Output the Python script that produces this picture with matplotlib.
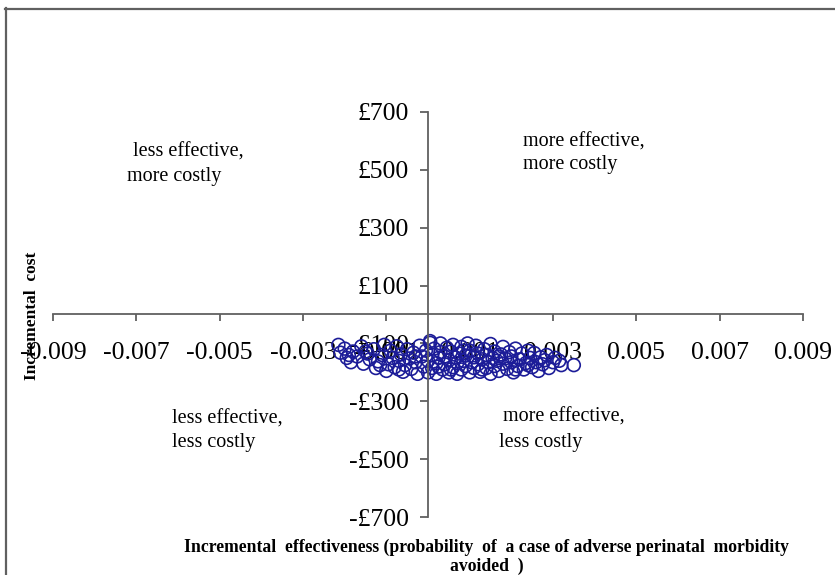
import matplotlib

matplotlib.use("Agg")
import matplotlib.pyplot as plt
from matplotlib.lines import Line2D
from matplotlib.ticker import FixedLocator, FuncFormatter

# Simulated incremental effectiveness / cost pairs (read off the plane)
effect = [
    -0.00215, -0.0021, -0.0020, -0.00195, -0.0019, -0.00185, -0.0018, -0.0017,
    -0.0016, -0.00155, -0.0015, -0.00145, -0.0014, -0.0013, -0.00125, -0.0012,
    -0.00115, -0.0011, -0.00105, -0.0010, -0.00095, -0.0009, -0.00085, -0.0008,
    -0.00075, -0.0007, -0.0007, -0.00065, -0.0006, -0.00055, -0.0005, -0.00045,
    -0.0004, -0.00035, -0.0003, -0.0003, -0.00025, -0.0002, -0.00015, -0.0001,
    -0.00005, 0.0, 0.0, 0.00005, 0.00005, 0.0001, 0.0001, 0.00015, 0.0002,
    0.0002, 0.00025, 0.00025, 0.0003, 0.0003, 0.00035, 0.0004, 0.0004, 0.00045,
    0.0005, 0.0005, 0.00055, 0.00055, 0.0006, 0.0006, 0.00065, 0.0007, 0.0007,
    0.00075, 0.0008, 0.0008, 0.00085, 0.00085, 0.0009, 0.0009, 0.00095, 0.0010,
    0.0010, 0.00105, 0.0011, 0.0011, 0.00115, 0.0012, 0.0012, 0.00125, 0.0013,
    0.0013, 0.00135, 0.0014, 0.0014, 0.00145, 0.0015, 0.0015, 0.00155, 0.0016,
    0.0016, 0.00165, 0.0017, 0.0017, 0.00175, 0.0018, 0.0018, 0.00185, 0.0019,
    0.00195, 0.0020, 0.0020, 0.00205, 0.0021, 0.0021, 0.00215, 0.0022, 0.00225,
    0.0023, 0.00235, 0.0024, 0.0024, 0.00245, 0.0025, 0.00255, 0.0026, 0.00265,
    0.0027, 0.00275, 0.0028, 0.00285, 0.0029, 0.0030, 0.00305, 0.00315, 0.0032,
    0.0035,
]
cost = [
    -105, -132, -118, -150, -140, -165, -128, -145,
    -110, -170, -128, -135, -155, -120, -185, -162,
    -175, -140, -105, -195, -172, -125, -150, -182,
    -110, -160, -190, -138, -198, -175, -120, -152,
    -188, -132, -165, -145, -205, -108, -145, -180,
    -125, -160, -200, -98, -92, -140, -185, -118, -168,
    -205, -150, -180, -100, -130, -190, -172, -145, -115,
    -200, -158, -128, -190, -182, -105, -148, -168, -205,
    -135, -190, -112, -160, -125, -142, -178, -100, -200,
    -125, -165, -148, -185, -108, -135, -172, -198, -155,
    -190, -120, -185, -140, -165, -102, -205, -150, -128,
    -178, -160, -195, -145, -138, -112, -170, -152, -188,
    -130, -165, -145, -200, -118, -190, -178, -155, -135,
    -190, -168, -125, -175, -150, -182, -133, -165, -195,
    -148, -172, -158, -140, -185, -165, -150, -160, -175,
    -175,
]

x_ticks = [-0.009, -0.007, -0.005, -0.003, -0.001, 0.001, 0.003, 0.005, 0.007, 0.009]
y_ticks = [-700, -500, -300, -100, 100, 300, 500, 700]

quadrant_notes = [
    ("less effective,", 133, 152),
    ("more costly", 127, 177),
    ("more effective,", 523, 142),
    ("more costly", 523, 165),
    ("less effective,", 172, 419),
    ("less costly", 172, 443),
    ("more effective,", 503, 417),
    ("less costly", 499, 442),
]

W, H = 835, 575
_NAVY = "#1c1c98"
_AXIS = "#606060"


def _fx(px):
    return px / W


def _fy(py):
    return 1 - py / H


def _money(v, _p):
    return f"-£{abs(v):.0f}" if v < 0 else f"£{v:.0f}"


plt.rcParams.update({"font.family": ["Liberation Serif", "DejaVu Serif"]})
fig = plt.figure(figsize=(W / 100, H / 100), dpi=100)
fig.patch.set_facecolor("white")

ax = fig.add_axes([_fx(53), _fy(517), _fx(803) - _fx(53), _fy(112) - _fy(517)])
# points sit under the axis labels, as in the source chart
ax.scatter(effect, cost, s=85, facecolors="none", edgecolors=_NAVY, linewidths=1.2, zorder=2)
ax.set_xlim(-0.009, 0.009)
ax.set_ylim(-700, 700)

for side in ("top", "right"):
    ax.spines[side].set_visible(False)
for side in ("left", "bottom"):
    ax.spines[side].set_position("zero")
    ax.spines[side].set_color(_AXIS)
    ax.spines[side].set_linewidth(1.3)

ax.xaxis.set_major_locator(FixedLocator(x_ticks))
ax.xaxis.set_major_formatter(FuncFormatter(lambda v, _p: f"{v:.3f}"))
ax.yaxis.set_major_locator(FixedLocator(y_ticks))
ax.yaxis.set_major_formatter(FuncFormatter(_money))
ax.tick_params(axis="x", direction="out", length=5, width=1.3, color=_AXIS,
               labelsize=18.5, pad=15)
ax.tick_params(axis="y", direction="out", length=6, width=1.3, color=_AXIS,
               labelsize=18.5, pad=8)

for txt, px, py in quadrant_notes:
    fig.text(_fx(px), _fy(py), txt, fontsize=14.5, ha="left", va="center")

fig.text(_fx(487), _fy(547),
         "Incremental  effectiveness (probability  of  a case of adverse perinatal  morbidity",
         fontsize=12.7, fontweight="bold", ha="center", va="center")
fig.text(_fx(487), _fy(566), "avoided  )", fontsize=12.7, fontweight="bold",
         ha="center", va="center")
fig.text(_fx(32), _fy(316), "Incremental  cost", fontsize=12.5, fontweight="bold",
         rotation=90, ha="center", va="center")

# chart-area border (left and top edges visible in the crop)
fig.add_artist(Line2D([_fx(5.5), _fx(5.5)], [_fy(8), 0], color=_AXIS, linewidth=1.6))
fig.add_artist(Line2D([_fx(5), 1], [_fy(8.5), _fy(8.5)], color=_AXIS, linewidth=1.6))

fig.savefig("out.png", dpi=100, facecolor="white")
plt.close(fig)
